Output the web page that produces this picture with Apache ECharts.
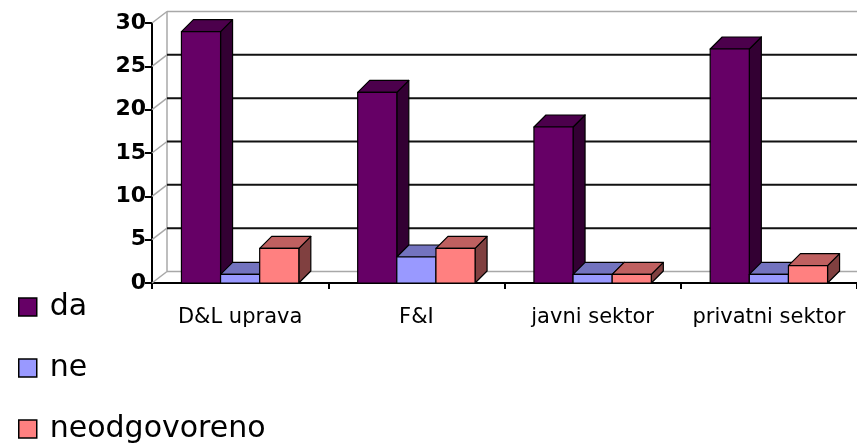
<!DOCTYPE html>
<html lang="hr">
<head>
<meta charset="UTF-8" />
<title>da / ne / neodgovoreno</title>
<script src="https://cdn.jsdelivr.net/npm/echarts@6/dist/echarts.min.js"></script>
<style>
  html, body { margin: 0; padding: 0; background: #fff; }
  #chart { width: 857px; height: 446px; }
</style>
</head>
<body>
<div id="chart"></div>
<script>
// data
const categories = ["D&L uprava", "F&I", "javni sektor", "privatni sektor"];
const seriesNames = ["da", "ne", "neodgovoreno"];
const da = [29, 22, 18, 27];
const ne = [1, 3, 1, 1];
const neodgovoreno = [4, 4, 1, 2];
const yTicks = [0, 5, 10, 15, 20, 25, 30];

// front / top / side colours of each bar
const shades = [
  { front: "#660066", top: "#4c004c", side: "#330033" },
  { front: "#9999ff", top: "#7373bf", side: "#5c5c99" },
  { front: "#ff8080", top: "#bf6060", side: "#804040" }
];

const wallDx = 15, wallDy = -11.5;   // depth of the back wall
const barDx = 12, barDy = -12;       // depth of the boxes
const barRatio = 0.222;              // bar width / category width

const myChart = echarts.init(document.getElementById("chart"));

function wallItem(params, api) {
  const cs = params.coordSys;
  const v = api.value(0);
  const y = api.coord([0, v])[1];
  const x0 = cs.x;
  const edge = (v === yTicks[0] || v === yTicks[yTicks.length - 1]);
  const children = [
    { type: "line", shape: { x1: x0, y1: y, x2: x0 + wallDx, y2: y + wallDy },
      style: { stroke: "#a8a8a8", lineWidth: 1.5 } },
    { type: "line", shape: { x1: x0 + wallDx, y1: y + wallDy, x2: cs.x + cs.width + wallDx, y2: y + wallDy },
      style: { stroke: edge ? "#a8a8a8" : "#111", lineWidth: edge ? 1.5 : 2 } }
  ];
  if (v === yTicks[0]) {
    const top = api.coord([0, yTicks[yTicks.length - 1]])[1];
    children.push({ type: "line",
      shape: { x1: x0 + wallDx, y1: y + wallDy, x2: x0 + wallDx, y2: top + wallDy },
      style: { stroke: "#a8a8a8", lineWidth: 1.5 } });
  }
  return { type: "group", children: children };
}

function boxItem(k) {
  return function (params, api) {
    const i = api.value(0), v = api.value(1);
    const base = api.coord([i, 0]);
    const top = api.coord([i, v]);
    const cw = api.size([1, 0])[0];
    const bw = cw * barRatio;
    const x0 = base[0] + (k - 1) * bw - bw / 2, x1 = x0 + bw;
    const yb = base[1], yt = top[1];
    const c = shades[k];
    const st = { stroke: "#000", lineWidth: 1.2, lineJoin: "round" };
    return {
      type: "group",
      children: [
        { type: "polygon", shape: { points: [[x1, yt], [x1 + barDx, yt + barDy], [x1 + barDx, yb + barDy], [x1, yb]] },
          style: Object.assign({ fill: c.side }, st) },
        { type: "polygon", shape: { points: [[x0, yt], [x1, yt], [x1 + barDx, yt + barDy], [x0 + barDx, yt + barDy]] },
          style: Object.assign({ fill: c.top }, st) },
        { type: "rect", shape: { x: x0, y: yt, width: bw, height: yb - yt },
          style: Object.assign({ fill: c.front }, st) }
      ]
    };
  };
}

const values = [da, ne, neodgovoreno];
const series = [{
  type: "custom",
  name: "wall",
  silent: true,
  renderItem: wallItem,
  data: yTicks.map(v => [v]),
  encode: { y: 0 }
}];
values.forEach((vals, k) => {
  series.push({
    type: "custom",
    name: seriesNames[k],
    renderItem: boxItem(k),
    itemStyle: { color: shades[k].front, borderColor: "#000", borderWidth: 1.5 },
    data: vals.map((v, i) => [i, v]),
    encode: { x: 0, y: 1 }
  });
});

const option = {
  animation: false,
  backgroundColor: "#fff",
  grid: { left: 152, right: 0, top: 23, bottom: 163 },
  legend: {
    data: seriesNames,
    orient: "vertical",
    left: 18,
    top: 292,
    height: 160,
    padding: 0,
    icon: "rect",
    itemWidth: 18,
    itemHeight: 18,
    itemGap: 31,
    itemStyle: { borderColor: "#000", borderWidth: 1.5 },
    textStyle: { fontFamily: "DejaVu Sans", fontSize: 30, color: "#000", lineHeight: 30, padding: [0, 0, 0, 8] }
  },
  xAxis: {
    type: "category",
    data: categories,
    axisLine: { lineStyle: { color: "#000", width: 2 } },
    axisTick: { show: true, interval: 0, length: 6, lineStyle: { color: "#000", width: 2 } },
    axisLabel: { fontFamily: "DejaVu Sans", fontSize: 21, color: "#000", margin: 24, interval: 0 },
    splitLine: { show: false }
  },
  yAxis: {
    type: "value",
    min: 0,
    max: 30,
    interval: 5,
    axisLine: { show: true, lineStyle: { color: "#000", width: 2 } },
    axisTick: { show: true, length: 7, lineStyle: { color: "#000", width: 2 } },
    axisLabel: { fontFamily: "DejaVu Sans", fontWeight: "bold", fontSize: 22, color: "#000", margin: 6 },
    splitLine: { show: false }
  },
  series: series
};

myChart.setOption(option);
</script>
</body>
</html>
